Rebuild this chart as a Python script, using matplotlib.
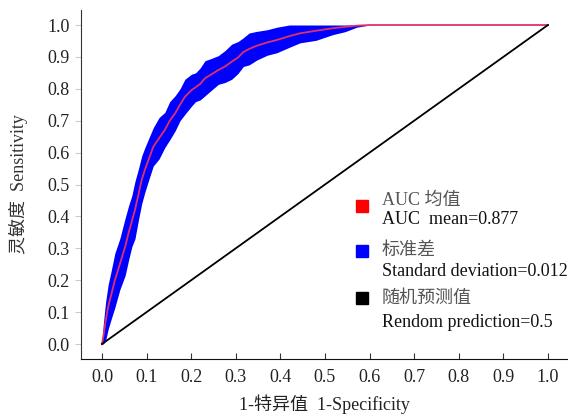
import numpy as np
import matplotlib
matplotlib.use("Agg")
import matplotlib.pyplot as plt

# ---- data ----
fpr = [0, 0.003, 0.008, 0.014, 0.02, 0.029, 0.04, 0.052, 0.06, 0.067, 0.074, 0.082,
       0.089, 0.096, 0.105, 0.115, 0.128, 0.141, 0.152, 0.164, 0.175, 0.186, 0.201,
       0.21, 0.22, 0.231, 0.245, 0.261, 0.276, 0.291, 0.305, 0.317, 0.33, 0.347,
       0.37, 0.392, 0.42, 0.444, 0.48, 0.518, 0.545, 0.571, 0.6, 1.0]
tpr_mean = [0, 0.023, 0.07, 0.117, 0.15, 0.2, 0.25, 0.305, 0.35, 0.385, 0.42, 0.47,
            0.514, 0.545, 0.58, 0.618, 0.645, 0.671, 0.70, 0.723, 0.75, 0.775, 0.796,
            0.805, 0.815, 0.833, 0.845, 0.859, 0.87, 0.885, 0.898, 0.915, 0.925, 0.935,
            0.945, 0.953, 0.965, 0.974, 0.982, 0.99, 0.994, 0.998, 1.0, 1.0]
tpr_std = [0, 0.04, 0.06, 0.07, 0.075, 0.085, 0.08, 0.09, 0.085, 0.08, 0.09, 0.08,
           0.075, 0.07, 0.065, 0.06, 0.065, 0.055, 0.06, 0.055, 0.05, 0.055, 0.05,
           0.045, 0.05, 0.055, 0.05, 0.045, 0.05, 0.055, 0.05, 0.045, 0.05, 0.045,
           0.04, 0.04, 0.035, 0.03, 0.03, 0.02, 0.015, 0.005, 0, 0]
chance = [0, 1]
ticks = [0.0, 0.1, 0.2, 0.3, 0.4, 0.5, 0.6, 0.7, 0.8, 0.9, 1.0]
legend_cn = ["AUC 均值", "标准差", "随机预测值"]
legend_en = ["AUC  mean=0.877", "Standard deviation=0.012", "Rendom prediction=0.5"]
legend_colors = ["#ff0000", "#0000ff", "#000000"]

FAM = ["Liberation Serif", "Noto Sans CJK SC", "DejaVu Sans"]
plt.rcParams['font.family'] = FAM

fig = plt.figure(figsize=(5.68, 4.17), dpi=100)
ax = fig.add_axes([0.1426, 0.139, 0.8574, 0.837])

m = np.array(tpr_mean)
s = np.array(tpr_std)
ax.fill_between(fpr, np.clip(m - s, 0, 1), np.clip(m + s, 0, 1),
                color="#0000ff", lw=0, zorder=2)
ax.plot(fpr, tpr_mean, color="#e0306a", lw=1.3, zorder=3)
ax.plot(chance, chance, color="black", lw=1.3, zorder=3)

ax.set_xlim(-0.047, 1.045)
ax.set_ylim(-0.047, 1.047)
ax.set_xticks(ticks)
ax.set_yticks(ticks)
ax.set_xticklabels([f"{t:.1f}" for t in ticks])
ax.set_yticklabels([f"{t:.1f}" for t in ticks])
for sp in ["top", "right"]:
    ax.spines[sp].set_visible(False)
ax.spines["left"].set_color("#333333")
ax.spines["bottom"].set_color("#111111")
ax.tick_params(axis="x", direction="in", length=4, color="#333333",
               labelsize=13, labelcolor="#222222", pad=7)
ax.tick_params(axis="y", direction="out", length=4, color="#cccccc",
               labelsize=13, labelcolor="#222222", pad=4)

ax.set_xlabel("1-特异值  1-Specificity", fontsize=13, color="#222222", labelpad=6)
ax.set_ylabel("灵敏度  Sensitivity", fontsize=13, color="#333333", labelpad=14)

# manual legend
sq_y = [0.433, 0.292, 0.144]
cn_y = [0.451, 0.292, 0.144]
en_y = [0.389, 0.226, 0.069]
for c, cn, en, sy, cy, ey in zip(legend_colors, legend_cn, legend_en, sq_y, cn_y, en_y):
    ax.plot([0.583], [sy], marker="s", ms=9, color=c, ls="none", clip_on=False, zorder=5)
    ax.text(0.628, cy, cn, fontsize=13, color="#555555", va="center", ha="left",
            clip_on=False)
    ax.text(0.628, ey, en, fontsize=13, color="#111111", va="center", ha="left",
            clip_on=False)

fig.savefig("out.png", dpi=100)
